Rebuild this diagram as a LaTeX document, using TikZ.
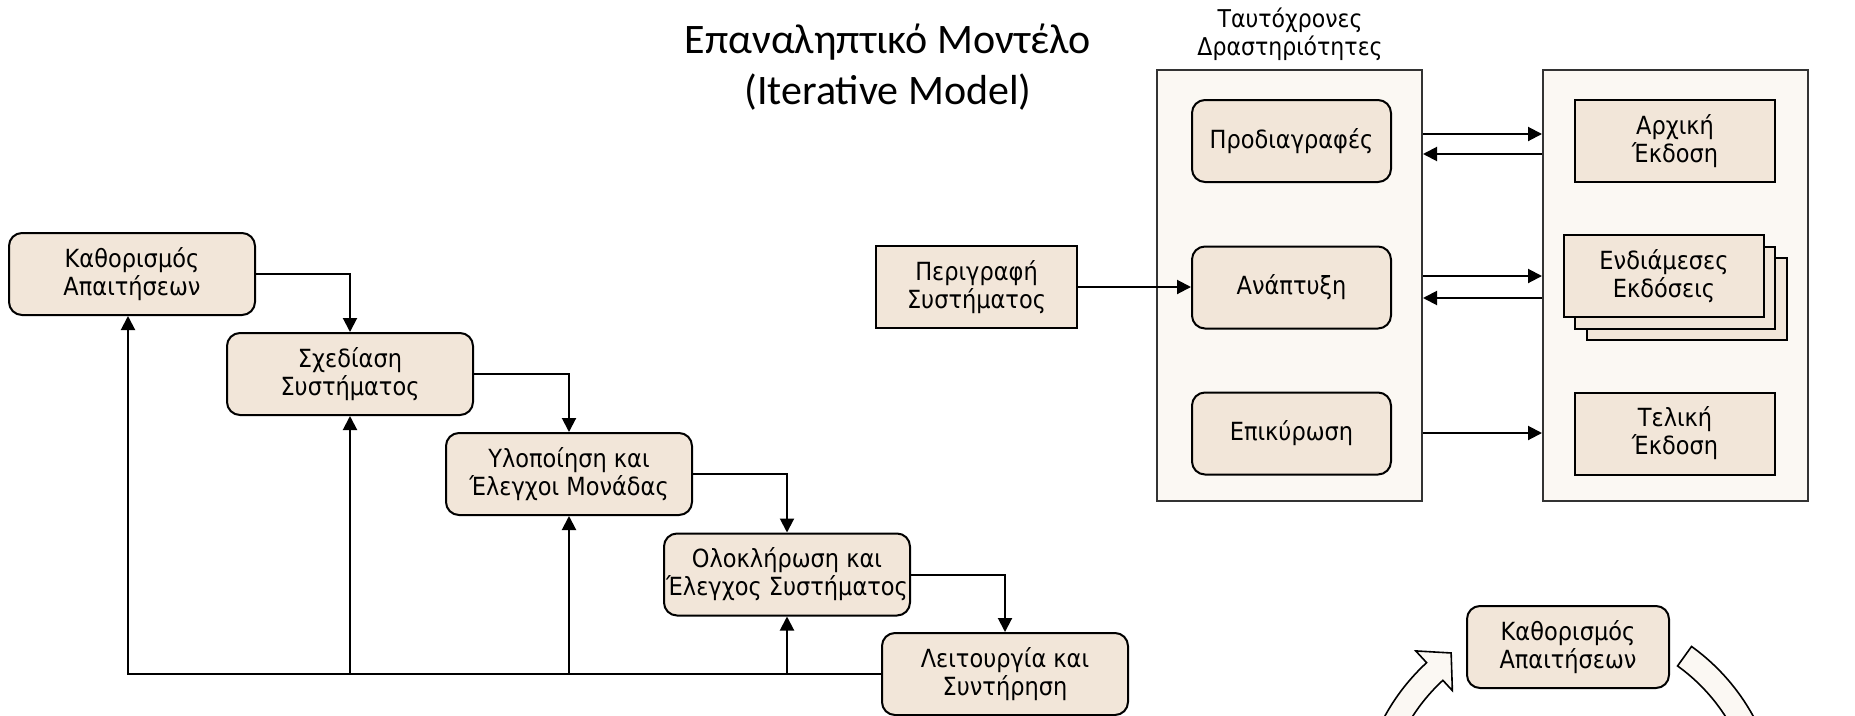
\documentclass[tikz,border=0pt]{standalone}
\usepackage{fontspec}
\setmainfont{DejaVu Sans}[FakeStretch=0.9]
\newfontfamily\titlefont{Carlito}
\usetikzlibrary{arrows.meta,calc}

\definecolor{boxfill}{RGB}{242,230,217}
\definecolor{panelfill}{RGB}{251,248,243}

\begin{document}
\begin{tikzpicture}[x=1pt,y=-1pt,
  every node/.style={font=\fontsize{25}{28}\selectfont, align=center, inner sep=0pt, text=black},
  headline/.style={font=\titlefont\fontsize{42}{50}\selectfont, anchor=base},
  phasebox/.style={draw=black, line width=2pt, fill=boxfill, rounded corners=13pt,
                   minimum width=246pt, minimum height=82pt},
  actbox/.style={phasebox, minimum width=199pt},
  relbox/.style={draw=black, line width=2pt, fill=boxfill,
                 minimum width=200pt, minimum height=82pt},
  panelbox/.style={draw=black!80, line width=2pt, fill=panelfill,
                   minimum width=265pt, minimum height=431pt},
  flow/.style={draw=black, line width=2pt, -{Triangle[length=14pt,width=14pt]}},
  cycarrow/.style={draw=black, line width=1.6pt, fill=panelfill, line join=miter},
]
\useasboundingbox (0,0) rectangle (1855,715);

% title
\node[headline] (title) at (888,53) {Επαναληπτικό Μοντέλο};
\node[headline] (subtitle) at (888,104) {(Iterative Model)};

% cascade of phases with feedback
\node[phasebox] (req) at (132,274) {Καθορισμός\\Απαιτήσεων};
\node[phasebox] (des) at (350,374) {Σχεδίαση\\Συστήματος};
\node[phasebox] (imp) at (569,474) {Υλοποίηση και\\Έλεγχοι Μονάδας};
\node[phasebox] (int) at (787,574.5) {Ολοκλήρωση και\\Έλεγχος Συστήματος};
\node[phasebox] (ops) at (1005,674) {Λειτουργία και\\Συντήρηση};

\draw[flow] (req.east) -| (des.north);
\draw[flow] (des.east) -| (imp.north);
\draw[flow] (imp.east) -| (int.north);
\draw[flow] (int.east) -| (ops.north);

\draw[flow] (ops.west) -| ([xshift=-4pt]req.south);
\draw[flow] (ops.west -| des.south) -- (des.south);
\draw[flow] (ops.west -| imp.south) -- (imp.south);
\draw[flow] (ops.west -| int.south) -- (int.south);

% concurrent activities and versions
\node[panelbox] (conc) at (1289.5,285.5) {};
\node[panelbox] (vers) at (1675.5,285.5) {};
\node[font=\fontsize{24.5}{28}\selectfont] (conclbl) at (1290,34) {Ταυτόχρονες\\Δραστηριότητες};

\node[actbox] (spec) at (1291.5,141) {Προδιαγραφές};
\node[actbox] (dev) at (1291.5,287.5) {Ανάπτυξη};
\node[actbox] (val) at (1291.5,433.5) {Επικύρωση};

\node[relbox] (init) at (1675,141) {Αρχική\\Έκδοση};
\node[relbox] (midc) at (1686.5,298.5) {};
\node[relbox] (midb) at (1675,287.5) {};
\node[relbox] (mida) at (1664,276) {Ενδιάμεσες\\Εκδόσεις};
\node[relbox] (fin) at (1675,433.5) {Τελική\\Έκδοση};

\node[relbox, minimum width=201pt] (sys) at (976.5,287) {Περιγραφή\\Συστήματος};
\draw[flow] (sys.east) -- (sys.east -| dev.west);

\draw[flow] (conc.east |- 0,134) -- (vers.west |- 0,134);
\draw[flow] (vers.west |- 0,154) -- (conc.east |- 0,154);
\draw[flow] (conc.east |- 0,276) -- (vers.west |- 0,276);
\draw[flow] (vers.west |- 0,298) -- (conc.east |- 0,298);
\draw[flow] (conc.east |- 0,433) -- (vers.west |- 0,433);

% cycle fragment
\coordinate (cyc) at (1569,817);
\begin{scope}
  \clip (0,0) rectangle (1855,715);
  \draw[cycarrow] ($(cyc)+(165:210pt)$) arc[start angle=165, end angle=132.7, radius=210pt]
    -- ($(cyc)+(132.7:226pt)$) -- ($(cyc)+(125.7:202pt)$) -- ($(cyc)+(132.7:172pt)$)
    -- ($(cyc)+(132.7:186pt)$) arc[start angle=132.7, end angle=165, radius=186pt] -- cycle;
  \draw[cycarrow] ($(cyc)+(54.3:210pt)$) arc[start angle=54.3, end angle=15, radius=210pt]
    -- ($(cyc)+(15:186pt)$) arc[start angle=15, end angle=54.3, radius=186pt] -- cycle;
\end{scope}
\node[phasebox, minimum width=202pt] (req2) at (1568,647) {Καθορισμός\\Απαιτήσεων};
\end{tikzpicture}
\end{document}
